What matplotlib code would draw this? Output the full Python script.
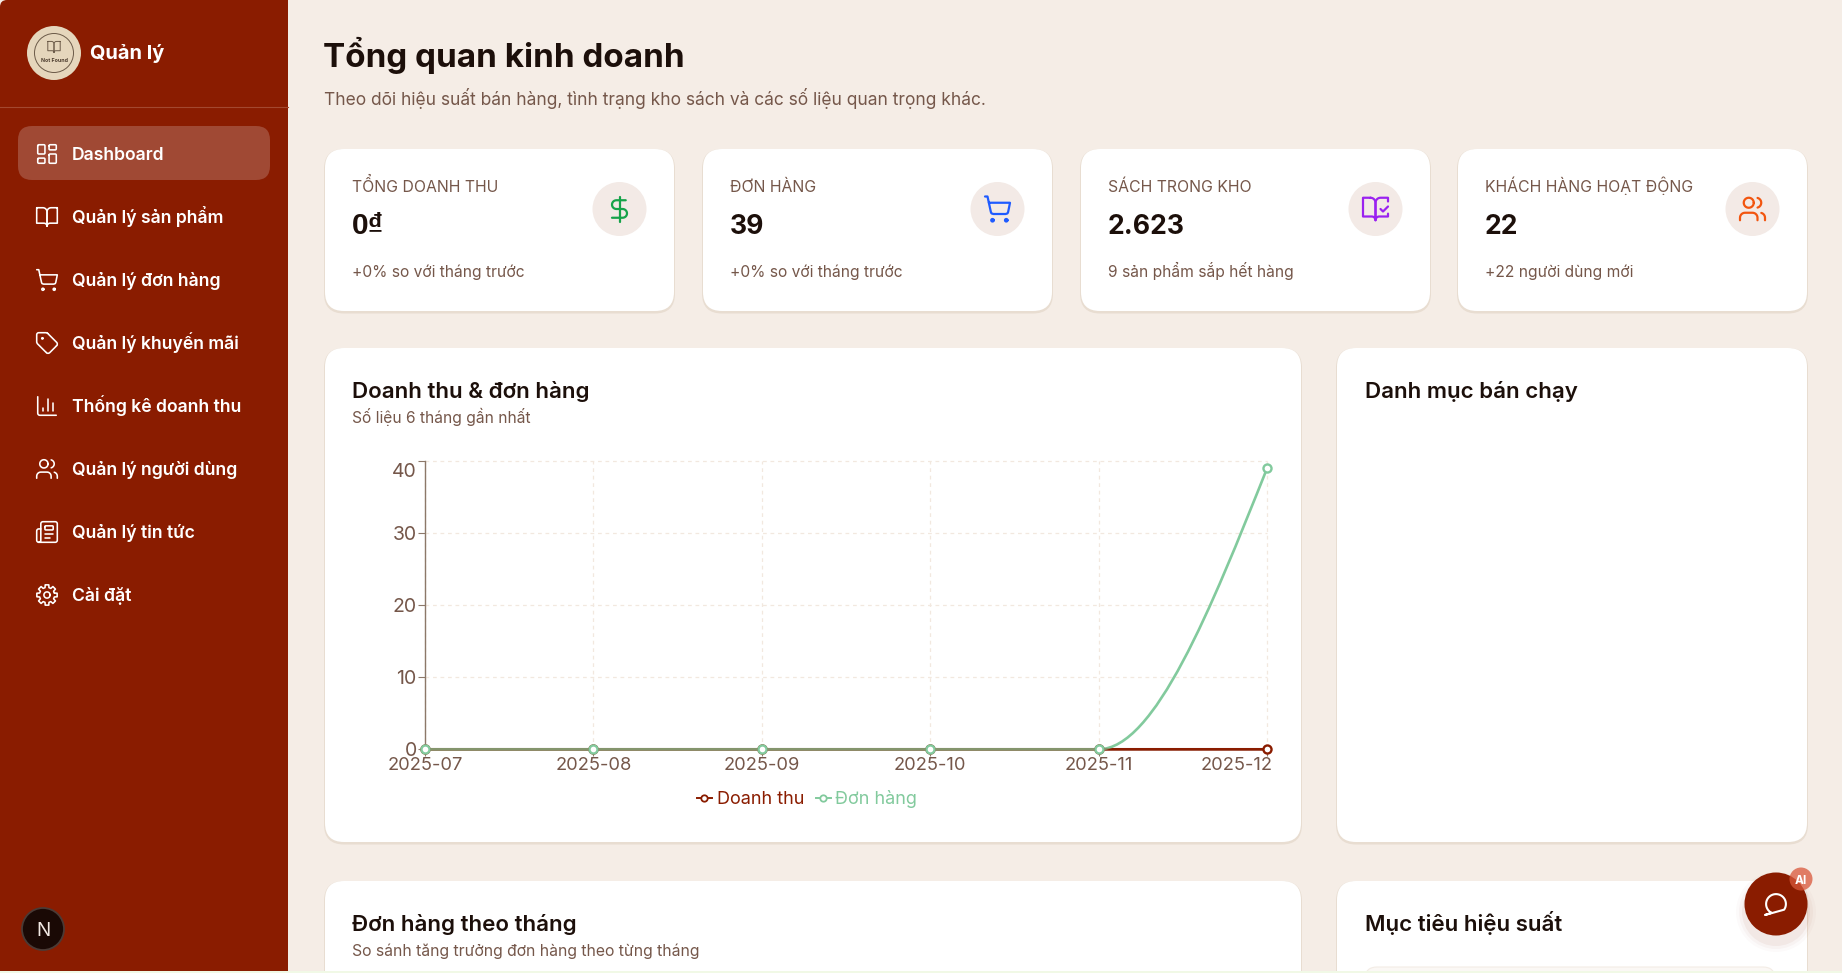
import numpy as np
import matplotlib
matplotlib.use('Agg')
import matplotlib.pyplot as plt
from matplotlib.lines import Line2D
from matplotlib.patches import Circle, FancyBboxPatch, PathPatch, Rectangle
from matplotlib.path import Path
from matplotlib.transforms import ScaledTranslation

plt.rcParams['font.family'] = ['Inter', 'Noto Sans', 'DejaVu Sans']

W, H = 1842, 973

# chart data
months = ['2025-07', '2025-08', '2025-09', '2025-10', '2025-11', '2025-12']
revenue = [0, 0, 0, 0, 0, 0]
orders = [0, 0, 0, 0, 0, 39]
y_ticks = [0, 10, 20, 30, 40]

# stat cards
stat_titles = ['TỔNG DOANH THU', 'ĐƠN HÀNG', 'SÁCH TRONG KHO', 'KHÁCH HÀNG HOẠT ĐỘNG']
stat_values = ['0₫', '39', '2.623', '22']
stat_notes = ['+0% so với tháng trước', '+0% so với tháng trước', '9 sản phẩm sắp hết hàng', '+22 người dùng mới']

# sidebar
menu_labels = ['Dashboard', 'Quản lý sản phẩm', 'Quản lý đơn hàng', 'Quản lý khuyến mãi',
               'Thống kê doanh thu', 'Quản lý người dùng', 'Quản lý tin tức', 'Cài đặt']

RED = '#8A1C00'
GREEN = '#82CA9D'
BG = '#F5EDE6'
DARK = '#1C0F0A'
BROWN = '#75574A'


def arc(cx, cy, r, t1, t2, n=24):
    t = np.radians(np.linspace(t1, t2, n))
    return list(zip(cx + r*np.cos(t), cy + r*np.sin(t)))


def circle(cx, cy, r):
    return arc(cx, cy, r, 0, 360, 40)


def rrect(x, y, w, h, r):
    return (arc(x+r, y+r, r, 180, 270, 6) + arc(x+w-r, y+r, r, 270, 360, 6)
            + arc(x+w-r, y+h-r, r, 0, 90, 6) + arc(x+r, y+h-r, r, 90, 180, 6)
            + [(x, y+r)])


def gear():
    pts = []
    for i in range(8):
        a = i*45.0
        for da, r in [(-15, 7.4), (-10, 10), (10, 10), (15, 7.4)]:
            t = np.radians(a + da)
            pts.append((12 + r*np.cos(t), 12 + r*np.sin(t)))
    pts.append(pts[0])
    return pts


book_left = [(2, 3), (8, 3)] + arc(8, 7, 4, 270, 360, 8) + [(12, 21)] + arc(9, 21, 3, 0, -90, 8) + [(2, 18), (2, 3)]
book_right = [(24-x, y) for x, y in book_left]

# icon shapes on a 24x24 grid
ICONS = {
    'dashboard': [rrect(3, 3, 7, 9, 1), rrect(14, 3, 7, 5, 1), rrect(14, 12, 7, 9, 1), rrect(3, 16, 7, 5, 1)],
    'book': [book_left, book_right],
    'cart': [circle(8, 21, 1), circle(19, 21, 1),
             [(2, 2), (4, 2), (6.7, 14.4), (7.2, 15.5), (8.7, 16), (18.5, 16), (20, 15.5), (20.5, 14.4), (22, 7), (5.1, 7)]],
    'tag': [[(12.6, 2.6), (11.2, 2), (4, 2)] + arc(4, 4, 2, 270, 180, 6) + [(2, 11.2), (2.6, 12.6), (11.3, 21.3)]
            + arc(13, 19.6, 2.4, 135, 45, 8) + [(21.3, 14.7)] + arc(19.6, 13, 2.4, 45, -45, 8) + [(12.6, 2.6)],
            circle(7.5, 7.5, 0.6)],
    'chart': [[(3, 3), (3, 19)] + arc(5, 19, 2, 180, 90, 6) + [(21, 21)], [(8, 17), (8, 14)], [(13, 17), (13, 5)], [(18, 17), (18, 9)]],
    'users': [[(16, 21), (16, 19)] + arc(12, 19, 4, 0, -90, 8) + [(6, 15)] + arc(6, 19, 4, 270, 180, 8) + [(2, 21)],
              circle(9, 7, 4),
              [(22, 21), (22, 19)] + arc(18, 19, 4, 0, -75, 8),
              arc(15, 7, 4, -75, 75, 12)],
    'news': [[(4, 22), (20, 22)] + arc(20, 20, 2, 90, 0, 6) + [(22, 4)] + arc(20, 4, 2, 0, -90, 6) + [(8, 2)]
             + arc(8, 4, 2, 270, 180, 6) + [(6, 20)] + arc(4, 20, 2, 0, 90, 6),
             [(4, 22)] + arc(4, 20, 2, 90, 180, 6) + [(2, 11)] + arc(4, 11, 2, 180, 270, 6) + [(6, 9)],
             [(18, 14), (10, 14)], [(15, 18), (10, 18)], rrect(10, 6, 8, 4, 0.8)],
    'gear': [gear(), circle(12, 12, 3)],
    'dollar': [[(12, 2), (12, 22)],
               [(17, 5), (9.5, 5)] + arc(9.5, 8.5, 3.5, 270, 90, 14) + [(14.5, 12)] + arc(14.5, 15.5, 3.5, -90, 90, 14) + [(6, 19)]],
    'bookcheck': [[(8, 3), (2, 3), (2, 18), (9, 18)] + arc(9, 21, 3, -90, 0, 8) + [(12, 7)] + arc(8, 7, 4, 0, -90, 8),
                  [(16, 12), (18, 14), (22, 10)],
                  [(22, 6), (22, 3), (16, 3)] + arc(16, 7, 4, 270, 180, 8) + [(12, 21)] + arc(15, 21, 3, 180, 270, 8) + [(22, 18), (22, 15.7)]],
    'chat': [arc(12, 12, 9, 115, 395, 40) + [(2, 22), (7.9, 20)]],
}

menu_icons = ['dashboard', 'book', 'cart', 'tag', 'chart', 'users', 'news', 'gear']
stat_icons = ['dollar', 'cart', 'bookcheck', 'users']
stat_colors = ['#16A34A', '#1F5BFF', '#9A22F0', '#F2550F']


def draw_icon(ax, name, cx, cy, s, color, lw, z=6):
    for pts in ICONS[name]:
        pts = np.array(pts)
        ax.plot(cx + (pts[:, 0]-12)*s, cy + (pts[:, 1]-12)*s, color=color, lw=lw,
                solid_capstyle='round', solid_joinstyle='round', zorder=z)


def box(ax, x0, y0, x1, y1, r, color, z=2, ec='none', lw=0):
    p = FancyBboxPatch((x0, y0), x1-x0, y1-y0, boxstyle='round,pad=0,rounding_size=%f' % r,
                       fc=color, ec=ec, lw=lw, zorder=z)
    ax.add_patch(p)


def card(ax, x0, y0, x1, y1):
    box(ax, x0-1, y0, x1+1, y1+2.5, 20, '#E8DDD1', 1)
    box(ax, x0, y0, x1, y1, 19, 'white', 2)


def txt(ax, x, y, s, size, color, weight='normal', ha='left', family=None):
    # size is given in pixels, y is the baseline
    t = ax.text(x, y, s, fontsize=size*0.72, color=color, fontweight=weight, ha=ha, va='baseline', zorder=7)
    if family:
        t.set_family(family)


def monotone_path(xs, ys):
    # same curve as a d3 monotoneX line, built from the data points
    xs = np.array(xs, dtype=float)
    ys = np.array(ys, dtype=float)
    h = np.diff(xs)
    s = np.diff(ys)/h
    t = np.zeros(len(xs))
    for i in range(1, len(xs)-1):
        p = (s[i-1]*h[i] + s[i]*h[i-1])/(h[i-1] + h[i])
        t[i] = (np.sign(s[i-1]) + np.sign(s[i]))*min(abs(s[i-1]), abs(s[i]), 0.5*abs(p))
    t[0] = (3*s[0] - t[1])/2
    t[-1] = (3*s[-1] - t[-2])/2
    verts = [(xs[0], ys[0])]
    codes = [Path.MOVETO]
    for i in range(len(h)):
        d = h[i]/3
        verts += [(xs[i]+d, ys[i]+d*t[i]), (xs[i+1]-d, ys[i+1]-d*t[i+1]), (xs[i+1], ys[i+1])]
        codes += [Path.CURVE4]*3
    return Path(verts, codes)


fig = plt.figure(figsize=(W/100, H/100), dpi=100, facecolor=BG)
ui = fig.add_axes([0, 0, 1, 1])
ui.set_xlim(0, W)
ui.set_ylim(H, 0)
ui.axis('off')

# sidebar
box(ui, 0, 0, 288, 990, 7, RED, 1)
ui.add_patch(Rectangle((150, 0), 138, 973, fc=RED, ec='none', zorder=1))
ui.plot([0, 288], [107, 107], color='#A3482F', lw=0.8, zorder=2)
ui.add_patch(Circle((54, 53), 27, fc='#E5D6BC', ec='none', zorder=3))
ui.add_patch(Circle((54, 53), 19.5, fc='none', ec='#6B5A48', lw=0.7, zorder=4))
draw_icon(ui, 'book', 54, 47, 0.62, '#6B5A48', 0.7)
txt(ui, 54, 62, 'Not Found', 5.2, '#4A3A2C', 'bold', 'center')
txt(ui, 90, 59, 'Quản lý', 20, 'white', 'bold')
box(ui, 18, 126, 270, 180, 14, '#A04934', 2)
for i, label in enumerate(menu_labels):
    y = 154 + 63*i
    draw_icon(ui, menu_icons[i], 47, y, 1.03, 'white', 1.15)
    txt(ui, 72, y + 5.8, label, 17.6, 'white', 'semibold')

# page header
txt(ui, 323, 67, 'Tổng quan kinh doanh', 33.2, DARK, 'bold')
txt(ui, 323.5, 105, 'Theo dõi hiệu suất bán hàng, tình trạng kho sách và các số liệu quan trọng khác.', 17.4, BROWN)

# stat cards
card_x = [(325, 674), (703, 1052), (1081, 1430), (1458, 1807)]
for i, (x0, x1) in enumerate(card_x):
    card(ui, x0, 149, x1, 311)
    txt(ui, x0 + 27, 192, stat_titles[i], 15.8, BROWN)
    if '₫' in stat_values[i]:
        txt(ui, x0 + 27, 234, stat_values[i], 30, DARK, 'bold', family=['Liberation Sans', 'DejaVu Sans'])
    else:
        txt(ui, x0 + 27, 234, stat_values[i], 26.6, DARK, 'bold')
    txt(ui, x0 + 27, 277, stat_notes[i], 15.6, BROWN)
    cx = x1 - 54.5
    ui.add_patch(Circle((cx, 209), 27, fc='#F3EAE6', ec='none', zorder=3))
    draw_icon(ui, stat_icons[i], cx, 209, 1.25, stat_colors[i], 1.6)

# chart cards and the two below
card(ui, 325, 348, 1301, 842)
card(ui, 1337, 348, 1807, 842)
card(ui, 325, 881, 1301, 1000)
card(ui, 1337, 881, 1807, 1000)
txt(ui, 352, 398, 'Doanh thu & đơn hàng', 22.3, DARK, 'semibold')
txt(ui, 352, 423, 'Số liệu 6 tháng gần nhất', 15.6, BROWN)
txt(ui, 1365, 398, 'Danh mục bán chạy', 22.3, DARK, 'semibold')
txt(ui, 352, 931, 'Đơn hàng theo tháng', 22.3, DARK, 'semibold')
txt(ui, 352, 956, 'So sánh tăng trưởng đơn hàng theo từng tháng', 15.75, BROWN)
txt(ui, 1365, 931, 'Mục tiêu hiệu suất', 22.3, DARK, 'semibold')
box(ui, 1365, 967, 1775, 1000, 12, '#FBF8F5', 3, ec='#F3ECE5', lw=0.8)

# strip at the bottom of the page
ui.add_patch(Rectangle((0, 971), W, 2, fc='#F1F9E6', ec='none', zorder=8))

# next.js badge
ui.add_patch(Circle((43, 929), 21, fc='#1A0905', ec='#4A3A35', lw=1.3, zorder=3))
txt(ui, 43, 936, 'N', 19, '#F2E9E4', 'normal', 'center')

# chat button
for r, a in [(40, 0.02), (37, 0.03), (34, 0.05)]:
    ui.add_patch(Circle((1776, 912), r, fc=RED, ec='none', alpha=a, zorder=4))
ui.add_patch(Circle((1776, 904), 31.5, fc=RED, ec='none', zorder=5))
draw_icon(ui, 'chat', 1776, 904, 1.1, 'white', 1.5)
ui.add_patch(Circle((1801, 879), 11.5, fc='#D9573A', ec='none', alpha=0.75, zorder=6))
txt(ui, 1801, 883.5, 'AI', 12, 'white', 'bold', 'center')

# line chart
ax = fig.add_axes([425/W, 1-749.3/H, 842/W, 288/H])
ax.patch.set_alpha(0)
x = np.arange(len(months))
ax.set_xlim(0, 5)
ax.set_ylim(0, 40)
ax.set_xticks(x)
ax.set_xticklabels(months)
ax.set_yticks(y_ticks)
ax.grid(True, color='#F2E8DF', lw=0.9, linestyle=(0, (3, 3)), zorder=0)
for g in ax.get_xgridlines() + ax.get_ygridlines():
    g.set_clip_on(False)
for side in ['top', 'right']:
    ax.spines[side].set_visible(False)
for side in ['left', 'bottom']:
    ax.spines[side].set_color('#8C7869')
    ax.spines[side].set_linewidth(1.0)
ax.tick_params(axis='both', color='#8C7869', labelcolor=BROWN, length=5, width=0.8, pad=1)
ax.tick_params(axis='x', labelsize=13.2, pad=0.5)
ax.tick_params(axis='y', labelsize=14)

rev_path = monotone_path(x, revenue)
ord_path = monotone_path(x, orders)
ax.add_patch(PathPatch(rev_path, fc='none', ec=RED, lw=1.9, zorder=3, clip_on=False))
ax.add_patch(PathPatch(ord_path, fc='none', ec=GREEN, lw=1.9, zorder=4, clip_on=False))
# the flat part looks mixed in the original, red shows through the green
ax.add_patch(PathPatch(rev_path, fc='none', ec=RED, lw=1.9, alpha=0.3, zorder=5, clip_on=False))
ax.plot(x, revenue, ls='none', marker='o', ms=5.8, mfc='white', mec=RED, mew=1.7, zorder=6, clip_on=False)
ax.plot(x, orders, ls='none', marker='o', ms=5.8, mfc='white', mec=GREEN, mew=1.7, zorder=7, clip_on=False)

# first and last labels are moved inside like the original
last_x = ax.get_xticklabels()[-1]
last_x.set_ha('right')
last_x.set_transform(last_x.get_transform() + ScaledTranslation(6/100, 0, fig.dpi_scale_trans))
top_y = ax.get_yticklabels()[-1]
top_y.set_transform(top_y.get_transform() + ScaledTranslation(0, -8.5/100, fig.dpi_scale_trans))

handles = [Line2D([], [], color=RED, lw=1.4, marker='o', ms=4.6, mfc='white', mew=1.3, label='Doanh thu'),
           Line2D([], [], color=GREEN, lw=1.4, marker='o', ms=4.6, mfc='white', mew=1.3, label='Đơn hàng')]
ax.legend(handles=handles, ncols=2, frameon=False, labelcolor='linecolor', fontsize=13.0,
          loc='center', bbox_to_anchor=((807-425)/842, (749.3-799)/288),
          handlelength=0.85, handletextpad=0.25, columnspacing=0.65, borderpad=0)

fig.savefig('out.png', dpi=100, facecolor=BG)
